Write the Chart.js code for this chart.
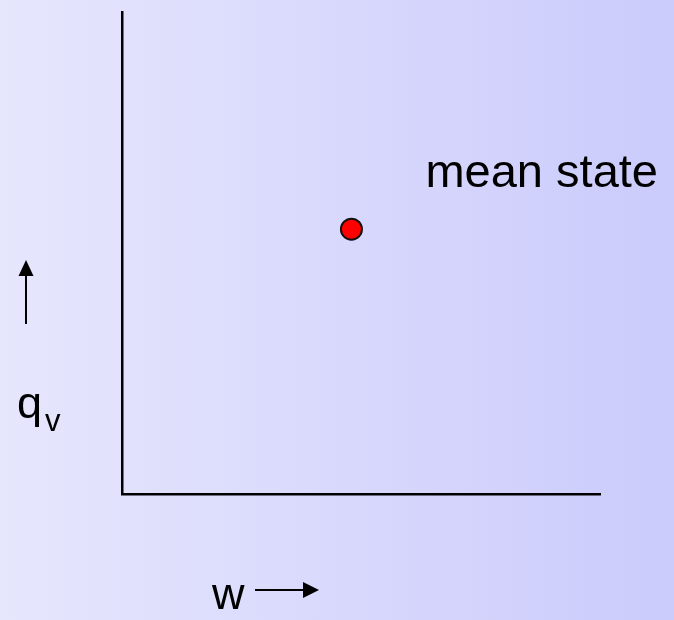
<!DOCTYPE html>
<html>
<head>
<meta charset="utf-8">
<script src="https://cdn.jsdelivr.net/npm/chart.js@4/dist/chart.umd.min.js"></script>
<style>
  html, body { margin: 0; padding: 0; background: #dcdcfb; }
  #wrap { width: 674px; height: 620px; }
</style>
</head>
<body>
<div id="wrap"><canvas id="c" width="674" height="620"></canvas></div>
<script>
// Data
const pointLabels = ["mean state"];
const wValues = [48];
const qvValues = [55];
const xAxisLabel = "w";
const yAxisLabel = "q";
const yAxisSub = "v";

const FONT = '"Liberation Sans", Arial, sans-serif';

const bgPlugin = {
  id: 'bg',
  beforeDraw(chart) {
    const ctx = chart.ctx;
    const g = ctx.createLinearGradient(0, 0, chart.width, 0);
    g.addColorStop(0, '#e6e6fd');
    g.addColorStop(1, '#cbcbfc');
    ctx.save();
    ctx.fillStyle = g;
    ctx.fillRect(0, 0, chart.width, chart.height);
    ctx.restore();
  }
};

function arrow(ctx, x1, y1, x2, y2, head, half) {
  const ang = Math.atan2(y2 - y1, x2 - x1);
  const bx = x2 - head * Math.cos(ang), by = y2 - head * Math.sin(ang);
  ctx.beginPath();
  ctx.moveTo(x1, y1);
  ctx.lineTo(bx, by);
  ctx.lineWidth = 2;
  ctx.strokeStyle = '#000';
  ctx.stroke();
  ctx.beginPath();
  ctx.moveTo(x2, y2);
  ctx.lineTo(bx + half * Math.sin(ang), by - half * Math.cos(ang));
  ctx.lineTo(bx - half * Math.sin(ang), by + half * Math.cos(ang));
  ctx.closePath();
  ctx.fillStyle = '#000';
  ctx.fill();
}

const labelPlugin = {
  id: 'labels',
  afterDraw(chart) {
    const ctx = chart.ctx;
    ctx.save();
    ctx.fillStyle = '#000';
    ctx.textBaseline = 'alphabetic';
    ctx.textAlign = 'left';
    // mean state label
    const p = chart.getDatasetMeta(0).data[0];
    ctx.font = '47px ' + FONT;
    ctx.fillText(pointLabels[0], p.x + 74, p.y - 42);
    // y axis label q_v
    ctx.font = '45px ' + FONT;
    ctx.fillText(yAxisLabel, 17, 418);
    ctx.font = '31px ' + FONT;
    ctx.fillText(yAxisSub, 45, 431);
    // up arrow
    arrow(ctx, 26, 324, 26, 260, 16, 7.5);
    // x axis label w
    ctx.font = '45px ' + FONT;
    ctx.fillText(xAxisLabel, 212, 609);
    // right arrow
    arrow(ctx, 255, 590, 319, 590, 16, 8);
    ctx.restore();
  }
};

new Chart(document.getElementById('c'), {
  type: 'scatter',
  data: {
    datasets: [{
      label: pointLabels[0],
      data: wValues.map((w, i) => ({ x: w, y: qvValues[i] })),
      pointRadius: 10.5,
      pointBorderWidth: 2,
      pointBackgroundColor: '#ff0000',
      pointBorderColor: '#111',
      pointHoverRadius: 10.5
    }]
  },
  options: {
    responsive: false,
    animation: false,
    events: [],
    layout: { padding: { left: 114, right: 74, top: 11, bottom: 118 } },
    plugins: { legend: { display: false }, tooltip: { enabled: false } },
    scales: {
      x: {
        min: 0, max: 100,
        ticks: { display: false },
        grid: { display: false },
        border: { display: true, color: '#000', width: 2.5 }
      },
      y: {
        min: 0, max: 100,
        ticks: { display: false },
        grid: { display: false },
        border: { display: true, color: '#000', width: 2.5 }
      }
    }
  },
  plugins: [bgPlugin, labelPlugin]
});
</script>
</body>
</html>
